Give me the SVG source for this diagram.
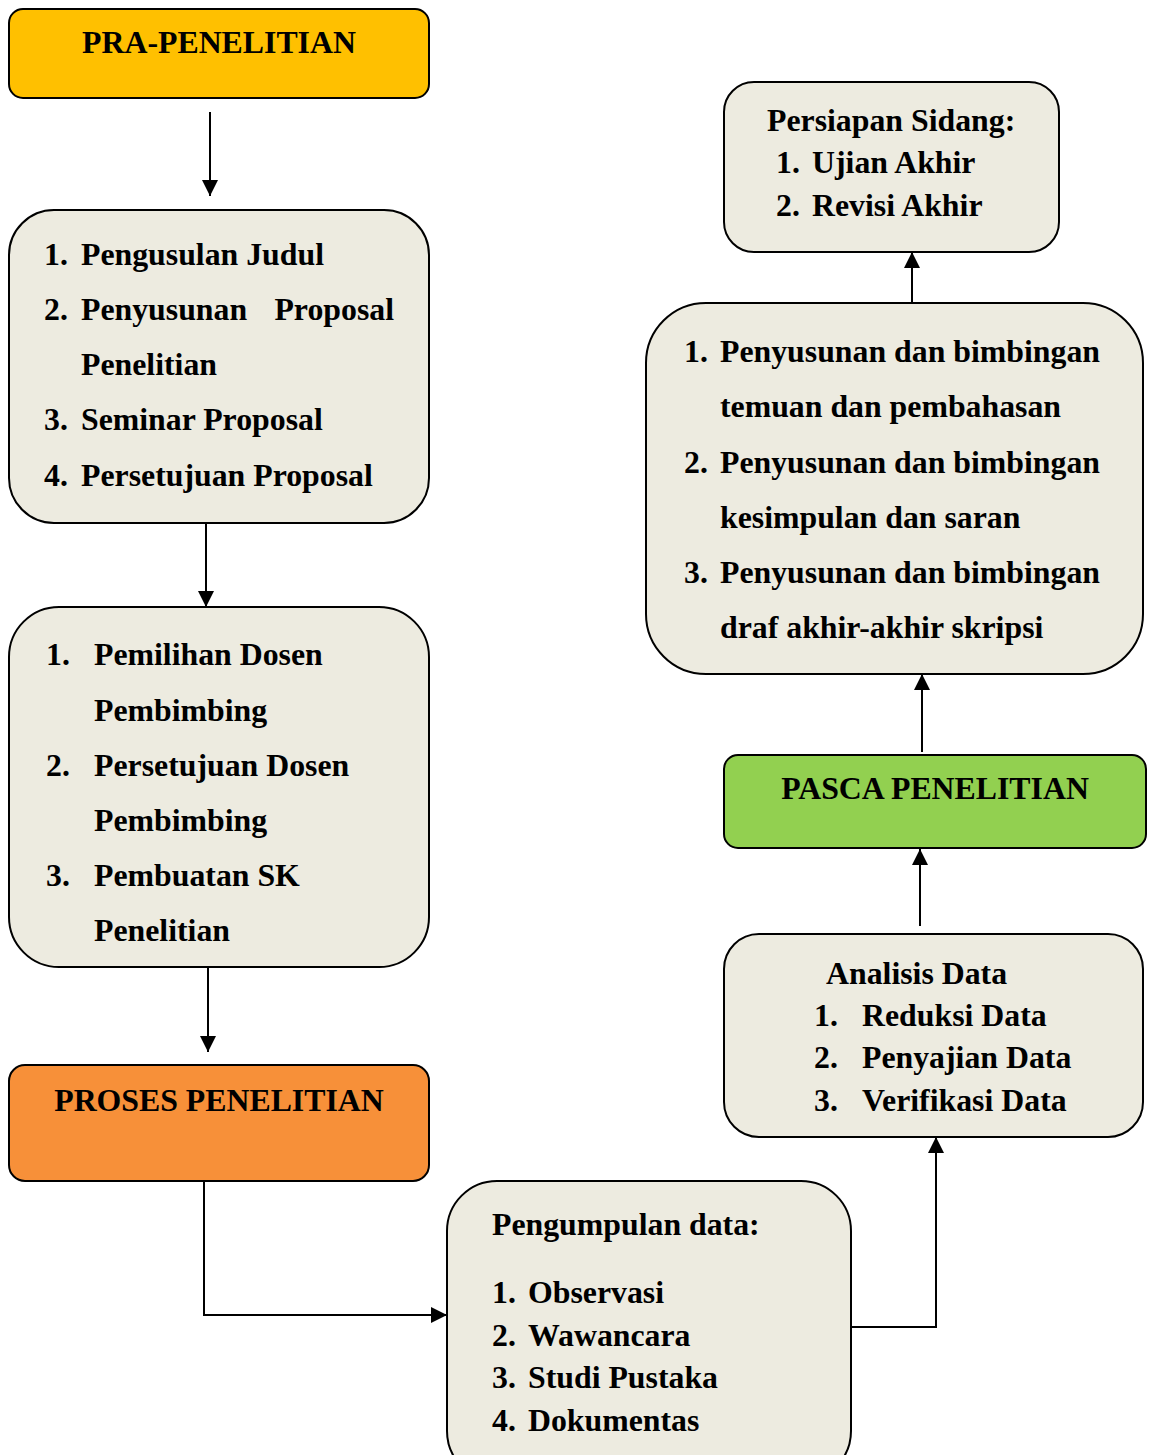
<svg xmlns="http://www.w3.org/2000/svg" width="1149" height="1455" viewBox="0 0 1149 1455">
<style>
.b{fill:#EDEBE0;stroke:#000;stroke-width:2}
.t{font-family:"Liberation Serif","Times New Roman",serif;font-weight:bold;font-size:31.8px;fill:#000}
.c{stroke:#000;stroke-width:2;fill:none}
</style>
<defs>
<marker id="ah" viewBox="0 0 10 10" refX="10" refY="5" markerWidth="16" markerHeight="16" markerUnits="userSpaceOnUse" orient="auto">
<path d="M0,0 L10,5 L0,10 z" fill="#000"/>
</marker>
</defs>
<rect width="1149" height="1455" fill="#fff"/>
<g id="connectors">
<line class="c" x1="210" y1="112" x2="210" y2="196" marker-end="url(#ah)"/>
<line class="c" x1="206" y1="523" x2="206" y2="607" marker-end="url(#ah)"/>
<line class="c" x1="208" y1="967" x2="208" y2="1052" marker-end="url(#ah)"/>
<polyline class="c" points="204,1181 204,1315 447,1315" marker-end="url(#ah)"/>
<polyline class="c" points="851,1327 936,1327 936,1137" marker-end="url(#ah)"/>
<line class="c" x1="920" y1="926" x2="920" y2="849" marker-end="url(#ah)"/>
<line class="c" x1="922" y1="752" x2="922" y2="674" marker-end="url(#ah)"/>
<line class="c" x1="912" y1="303" x2="912" y2="252" marker-end="url(#ah)"/>
</g>
<g id="pra">
<rect x="9" y="9" width="420" height="89" rx="14" fill="#FFC000" stroke="#000" stroke-width="2"/>
<text class="t" x="219" y="53" text-anchor="middle">PRA-PENELITIAN</text>
</g>
<g id="tahap1">
<rect class="b" x="9" y="210" width="420" height="313" rx="45"/>
<text class="t" x="44" y="265">1.</text><text class="t" x="81" y="265">Pengusulan Judul</text>
<text class="t" x="44" y="320">2.</text><text class="t" x="81" y="320">Penyusunan</text><text class="t" x="394" y="320" text-anchor="end">Proposal</text>
<text class="t" x="81" y="375">Penelitian</text>
<text class="t" x="44" y="430">3.</text><text class="t" x="81" y="430">Seminar Proposal</text>
<text class="t" x="44" y="486">4.</text><text class="t" x="81" y="486">Persetujuan Proposal</text>
</g>
<g id="tahap2">
<rect class="b" x="9" y="607" width="420" height="360" rx="50"/>
<text class="t" x="46" y="665">1.</text><text class="t" x="94" y="665">Pemilihan Dosen</text>
<text class="t" x="94" y="721">Pembimbing</text>
<text class="t" x="46" y="776">2.</text><text class="t" x="94" y="776">Persetujuan Dosen</text>
<text class="t" x="94" y="831">Pembimbing</text>
<text class="t" x="46" y="886">3.</text><text class="t" x="94" y="886">Pembuatan SK</text>
<text class="t" x="94" y="941">Penelitian</text>
</g>
<g id="proses">
<rect x="9" y="1065" width="420" height="116" rx="16" fill="#F79039" stroke="#000" stroke-width="2"/>
<text class="t" x="219" y="1111" text-anchor="middle">PROSES PENELITIAN</text>
</g>
<g id="pengumpulan">
<rect class="b" x="447" y="1181" width="404" height="300" rx="50"/>
<text class="t" x="492" y="1235">Pengumpulan data:</text>
<text class="t" x="492" y="1303">1.</text><text class="t" x="528" y="1303">Observasi</text>
<text class="t" x="492" y="1346">2.</text><text class="t" x="528" y="1346">Wawancara</text>
<text class="t" x="492" y="1388">3.</text><text class="t" x="528" y="1388">Studi Pustaka</text>
<text class="t" x="492" y="1431">4.</text><text class="t" x="528" y="1431">Dokumentas</text>
</g>
<g id="analisis">
<rect class="b" x="724" y="934" width="419" height="203" rx="35"/>
<text class="t" x="826" y="984">Analisis Data</text>
<text class="t" x="814" y="1026">1.</text><text class="t" x="862" y="1026">Reduksi Data</text>
<text class="t" x="814" y="1068">2.</text><text class="t" x="862" y="1068">Penyajian Data</text>
<text class="t" x="814" y="1111">3.</text><text class="t" x="862" y="1111">Verifikasi Data</text>
</g>
<g id="pasca">
<rect x="724" y="755" width="422" height="93" rx="14" fill="#92D050" stroke="#000" stroke-width="2"/>
<text class="t" x="935" y="799" text-anchor="middle">PASCA PENELITIAN</text>
</g>
<g id="penyusunan">
<rect class="b" x="646" y="303" width="497" height="371" rx="60"/>
<text class="t" x="684" y="362">1.</text><text class="t" x="720" y="362">Penyusunan dan bimbingan</text>
<text class="t" x="720" y="417">temuan dan pembahasan</text>
<text class="t" x="684" y="473">2.</text><text class="t" x="720" y="473">Penyusunan dan bimbingan</text>
<text class="t" x="720" y="528">kesimpulan dan saran</text>
<text class="t" x="684" y="583">3.</text><text class="t" x="720" y="583">Penyusunan dan bimbingan</text>
<text class="t" x="720" y="638">draf akhir-akhir skripsi</text>
</g>
<g id="sidang">
<rect class="b" x="724" y="82" width="335" height="170" rx="30"/>
<text class="t" x="767" y="131">Persiapan Sidang:</text>
<text class="t" x="776" y="173">1.</text><text class="t" x="812" y="173">Ujian Akhir</text>
<text class="t" x="776" y="216">2.</text><text class="t" x="812" y="216">Revisi Akhir</text>
</g>
</svg>
